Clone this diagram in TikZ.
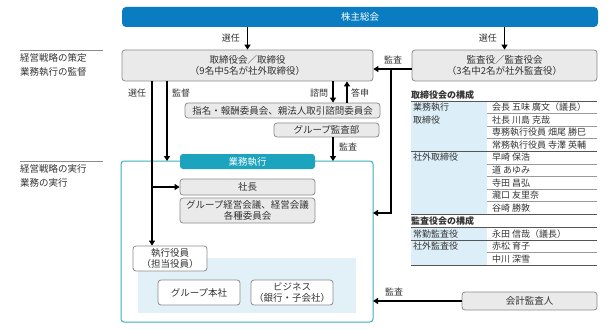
\documentclass[tikz,border=0pt]{standalone}
\usepackage{fontspec}
\setmainfont{Noto Sans CJK JP}
\usetikzlibrary{arrows.meta}
\definecolor{txt}{HTML}{333333}
\definecolor{topblue}{HTML}{0A7DC2}
\definecolor{boxfill}{HTML}{EAEAEA}
\definecolor{boxline}{HTML}{8C8C8C}
\definecolor{teal}{HTML}{1CA3BE}
\definecolor{tealline}{HTML}{3AAFBC}
\definecolor{lightblue}{HTML}{E2F1F8}
\definecolor{tabblue}{HTML}{DCEEF8}
\definecolor{rule}{HTML}{555555}
\definecolor{thinrule}{HTML}{999999}
\begin{document}
\begin{tikzpicture}[x=1pt,y=-1pt,
  every node/.style={font=\fontsize{9.5}{11.5}\selectfont, text=txt, inner sep=0pt},
  graybox/.style={draw=boxline, line width=0.8pt, fill=boxfill, rounded corners=3pt, align=center},
  whitebox/.style={draw=boxline, line width=0.8pt, fill=white, rounded corners=3pt, align=center},
  arr/.style={draw=black, line width=1.2pt, -{Triangle[length=5pt,width=6pt]}},
  ln/.style={draw=black, line width=1.2pt},
  lbl/.style={font=\fontsize{9}{10}\selectfont, text=txt},
  tab/.style={font=\fontsize{9}{10}\selectfont, text=txt, anchor=west},
  tabhead/.style={font=\fontsize{9}{10}\selectfont\bfseries, text=txt, anchor=west},
  sidelbl/.style={font=\fontsize{9.5}{14}\selectfont, text=txt, anchor=north west, align=left}
]
\useasboundingbox (0,0) rectangle (609,331);

% left side labels
\draw[boxline, line width=0.8pt] (20,50) -- (103,50);
\node[sidelbl] (l1) at (20,53) {経営戦略の策定\\業務執行の監督};
\draw[boxline, line width=0.8pt] (20,161) -- (103,161);
\node[sidelbl] (l2) at (20,164) {経営戦略の実行\\業務の実行};

% top bar
\node[fill=topblue, rounded corners=4pt, minimum width=476pt, minimum height=20pt, text=white] (top) at (360,17) {株主総会};

% board and audit boxes
\node[graybox, minimum width=251pt, minimum height=31pt] (board) at (247.5,65.5) {取締役会／取締役\\（9名中5名が社外取締役）};
\node[graybox, minimum width=185pt, minimum height=31pt] (audit) at (504.5,65.5) {監査役／監査役会\\（3名中2名が社外監査役）};

% committees
\node[graybox, minimum width=195pt, minimum height=15pt] (comm) at (282.5,110.5) {指名・報酬委員会、親法人取引諮問委員会};
\node[graybox, minimum width=105pt, minimum height=14pt] (gaudit) at (326.5,130) {グループ監査部};

% execution frame
\draw[tealline, line width=1pt, fill=white, rounded corners=3pt] (121,161) rectangle (373,322);
\coordinate (frameR1) at (373,213);
\coordinate (frameR2) at (373,301);
\fill[lightblue] (138,258) rectangle (356,313);
\node[fill=teal, rounded corners=3pt, minimum width=135pt, minimum height=15pt, text=white] (exec) at (247.5,161.5) {業務執行};
\node[graybox, minimum width=135pt, minimum height=16pt] (shacho) at (247.5,187) {社長};
\node[graybox, minimum width=135pt, minimum height=25pt] (kaigi) at (247.5,210.5) {グループ経営会議、経営会議\\各種委員会};
\node[whitebox, minimum width=74pt, minimum height=25pt] (shikko) at (170,258.5) {執行役員\\（担当役員）};
\node[whitebox, minimum width=82pt, minimum height=25pt] (honsha) at (199,292.5) {グループ本社};
\node[whitebox, minimum width=82pt, minimum height=25pt] (biz) at (292,292.5) {ビジネス\\（銀行・子会社）};

% accounting auditor
\node[graybox, minimum width=135pt, minimum height=18pt] (kaikei) at (529.5,301) {会計監査人};

% arrows top
\draw[arr] (top.south -| board.north) ++(0,0) -- (board.north);
\node[lbl, anchor=east] (s1) at (240,38) {選任};
\draw[arr] (top.south -| audit.north) -- (audit.north);
\node[lbl, anchor=east] (s2) at (497,38) {選任};

% audit -> board
\draw[arr] (audit.west |- 0,69) -- (board.east |- 0,69);
\node[lbl] (k1) at (393,60) {監査};
\draw[arr] (391,69) -- (391,213) -- (frameR1);

% kaikei -> frame
\draw[arr] (kaikei.west) -- (frameR2);
\node[lbl] (k2) at (394,292) {監査};

% board -> shikko / shacho
\draw[arr] (board.south -| 152,0) -- (shikko.north -| 152,0);
\draw[arr] (152,187) -- (shacho.west);
\node[lbl] (s3) at (137,93) {選任};

% board -> frame (supervision)
\draw[arr] (board.south -| 167,0) -- (167,161);
\node[lbl] (t1) at (181,93) {監督};

% consult / report
\draw[arr] (board.south -| 333,0) -- (comm.north -| 333,0);
\node[lbl] (c1) at (319,93) {諮問};
\draw[arr] (comm.north -| 347,0) -- (board.south -| 347,0);
\node[lbl] (c2) at (360,93) {答申};

% group audit -> frame
\draw[arr] (gaudit.south -| 333,0) -- (333,161);
\node[lbl] (k3) at (348,147) {監査};

% ===== table =====
\node[tabhead] (h1) at (411,95) {取締役会の構成};
\fill[tabblue] (411,101) rectangle (487,214.3);
\fill[tabblue] (411,227.7) rectangle (487,265.7);
% thin inner lines (right column)
\foreach \y in {113.6,126.2,138.8,163.9,176.5,189.1,201.7,252.3}
  \draw[thinrule, line width=0.6pt] (487,\y) -- (597,\y);
% full-width rules
\foreach \y in {101,151.2,214.3,227.7,240,265.7}
  \draw[rule, line width=0.9pt] (411,\y) -- (597,\y);

\node[tab] (r1a) at (413,107.3) {業務執行};
\node[tab] (r1b) at (413,119.9) {取締役};
\node[tab] (r2a) at (413,157.5) {社外取締役};
\node[tab] (n1) at (492,107.3) {会長 五味 廣文（議長）};
\node[tab] (n2) at (492,119.9) {社長 川島 克哉};
\node[tab] (n3) at (492,132.5) {専務執行役員 畑尾 勝巳};
\node[tab] (n4) at (492,145.0) {常務執行役員 寺澤 英輔};
\node[tab] (n5) at (492,157.5) {早崎 保浩};
\node[tab] (n6) at (492,170.2) {道 あゆみ};
\node[tab] (n7) at (492,182.8) {寺田 昌弘};
\node[tab] (n8) at (492,195.4) {瀧口 友里奈};
\node[tab] (n9) at (492,208.0) {谷崎 勝敦};

\node[tabhead] (h2) at (411,221.3) {監査役会の構成};
\node[tab] (r3a) at (413,233.9) {常勤監査役};
\node[tab] (r3b) at (413,246.2) {社外監査役};
\node[tab] (m1) at (492,233.9) {永田 信哉（議長）};
\node[tab] (m2) at (492,246.2) {赤松 育子};
\node[tab] (m3) at (492,259.0) {中川 深雪};
\end{tikzpicture}
\end{document}
